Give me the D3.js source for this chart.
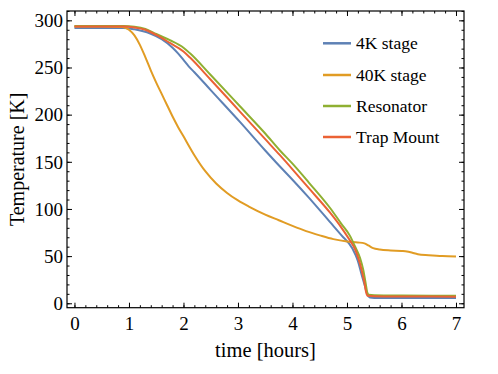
<!DOCTYPE html>
<html><head><meta charset="utf-8">
<script src="https://cdn.jsdelivr.net/npm/d3@7"></script>
<style>body{margin:0;background:#fff}svg{display:block}text{font-family:"Liberation Serif","Times New Roman",serif;fill:#000}</style>
</head><body><svg id="c" width="498" height="374"></svg>
<script>
const xTicks = [0,1,2,3,4,5,6,7];
const yTicks = [0,50,100,150,200,250,300];
const seriesNames = ["4K stage","40K stage","Resonator","Trap Mount"];
const seriesColors = ["#5E81B5","#E19C24","#8FB032","#EB6235"];

const t4K  = [0,0.5,0.9,1.1,1.39,1.6,1.8,1.9,2.0,2.1,2.2,2.5,3.04,3.5,3.77,4.0,4.3,4.69,4.9,5.1,5.2,5.27,5.33,5.37,5.42,5.5,6,7];
const v4K  = [292,292,292,290.5,286,280,271,265,258,251,245,226,192,162,145,131,112,86,72,58,45,30,18,10,6,5.5,5.5,5.5];

const t40K = [0,0.5,0.88,1.0,1.1,1.2,1.3,1.4,1.5,1.6,1.7,1.8,1.9,2.0,2.2,2.4,2.6,2.8,3.0,3.2,3.5,3.75,4.0,4.25,4.5,4.75,5.0,5.2,5.32,5.4,5.48,5.6,5.8,6.0,6.1,6.2,6.3,6.5,6.75,7.0];
const v40K = [293.5,293.5,293,290,284,274,261,247,234,222,210,198,187,177,157,140,127,117,109,102.5,94,88,82,76.5,72,68,65.5,64.5,63.5,61,58.5,57,56,55.5,55,53.5,52,51,50,49.5];

const tRes = [0,0.5,0.9,1.1,1.3,1.5,1.75,2.0,2.12,2.5,3.04,3.5,3.77,4.0,4.3,4.69,4.9,5.05,5.15,5.24,5.3,5.34,5.37,5.4,5.5,6,7];
const vRes = [294,294,294,293.3,291,285.5,279,271,265,242,208.6,180,162,148,128,101,84,72,60,48,35,22,12,9,8.5,8.2,8];

const tTrap = [0,0.5,0.9,1.1,1.3,1.5,1.75,2.0,2.12,2.5,3.04,3.5,3.77,4.0,4.3,4.69,4.9,5.05,5.15,5.27,5.32,5.35,5.38,5.5,6,7];
const vTrap = [293.5,293.5,293.5,292.5,290,284.5,276,267,260.5,237,203,174,157,142,122,96,80,67,57,35,22,12,8,7.5,7.2,7];

const series = [[t4K,v4K],[t40K,v40K],[tRes,vRes],[tTrap,vTrap]];

const svg = d3.select("#c");
const L=67,R=464,T=11,B=307.7;
const x = d3.scaleLinear().domain([-0.137,7.147]).range([L,R]);
const y = d3.scaleLinear().domain([-4.7,309.9]).range([B,T]);

const line = d3.line().x(d=>x(d[0])).y(d=>y(d[1])).curve(d3.curveMonotoneX);
const g = svg.append("g");
g.append("clipPath").attr("id","cp").append("rect").attr("x",L).attr("y",T).attr("width",R-L).attr("height",B-T);
series.forEach((s,i)=>{
  const pts = s[0].map((t,j)=>[t,s[1][j]]);
  g.append("path").attr("d",line(pts)).attr("fill","none").attr("stroke",seriesColors[i])
   .attr("stroke-width",2).attr("clip-path","url(#cp)");
});

// ticks
const xMinor = d3.range(0,7.0001,0.2).map(v=>+v.toFixed(1));
const yMinor = d3.range(0,310.001,10);
function ax(gen, sc, vals, size, tr, labels){
  const a = gen(sc).tickValues(vals).tickSizeInner(size).tickSizeOuter(0);
  if(!labels) a.tickFormat("");
  const gg = svg.append("g").attr("transform",tr).call(a);
  gg.select(".domain").remove();
  gg.selectAll("line").attr("stroke","#000").attr("stroke-width",1);
  return gg;
}
ax(d3.axisBottom,x,xMinor,-2.5,`translate(0,${B})`,false);
ax(d3.axisTop,x,xMinor,-2.5,`translate(0,${T})`,false);
ax(d3.axisLeft,y,yMinor,-2.5,`translate(${L},0)`,false);
ax(d3.axisRight,y,yMinor,-2.5,`translate(${R},0)`,false);
ax(d3.axisTop,x,xTicks,-5,`translate(0,${T})`,false);
ax(d3.axisRight,y,yTicks,-5,`translate(${R},0)`,false);
const xb = ax(d3.axisBottom,x,xTicks,-5,`translate(0,${B})`,true);
xb.selectAll("text").attr("font-size",19).attr("y",22).attr("dy","0");
const yl = ax(d3.axisLeft,y,yTicks,-5,`translate(${L},0)`,true);
yl.selectAll("text").attr("font-size",19).attr("x",-4).attr("dy","0.33em");

svg.append("rect").attr("x",L).attr("y",T).attr("width",R-L).attr("height",B-T)
  .attr("fill","none").attr("stroke","#000").attr("stroke-width",1.2);

svg.append("text").attr("x",(L+R)/2).attr("y",357).attr("text-anchor","middle").attr("font-size",20.5).text("time [hours]");
svg.append("text").attr("transform",`translate(24,${(T+B)/2}) rotate(-90)`).attr("text-anchor","middle").attr("font-size",20).text("Temperature [K]");

// legend
const legY = [43.3,75,106,137];
seriesNames.forEach((n,i)=>{
  svg.append("line").attr("x1",323).attr("x2",351).attr("y1",legY[i]).attr("y2",legY[i])
    .attr("stroke",seriesColors[i]).attr("stroke-width",2.5);
  svg.append("text").attr("x",356).attr("y",legY[i]).attr("dy","0.33em").attr("font-size",17.5).text(n);
});
</script></body></html>
